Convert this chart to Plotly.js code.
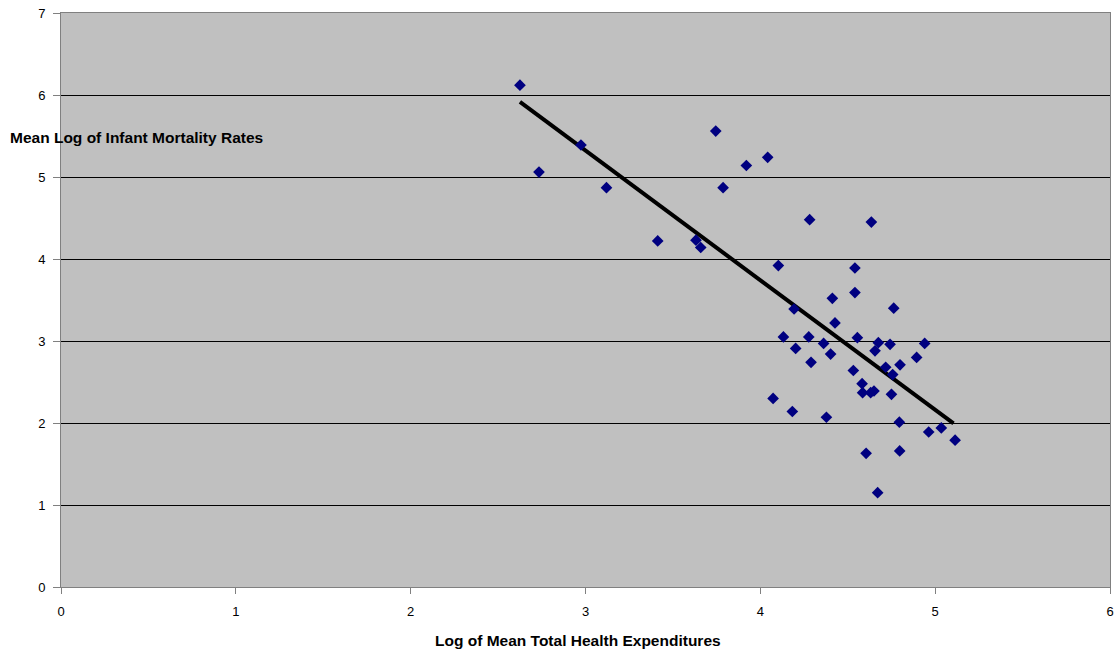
<!DOCTYPE html>
<html>
<head>
<meta charset="utf-8">
<script src="https://cdn.plot.ly/plotly-3.0.1.min.js"></script>
<style>html,body{margin:0;padding:0;background:#fff;}#chart{width:1117px;height:654px;}</style>
</head>
<body>
<div id="chart"></div>
<script>
// Log of mean total health expenditures (x) vs mean log of infant mortality rates (y)
const healthExp = [2.625, 2.734, 2.974, 3.12, 3.413, 3.632, 3.659, 3.745, 3.787, 3.92, 4.042, 4.103,
  4.282, 4.635, 4.541, 4.541, 4.412, 4.193, 4.763, 4.427, 4.132, 4.277, 4.555,
  4.675, 4.742, 4.94, 4.202, 4.362, 4.656, 4.402, 4.799, 4.894, 4.29, 4.717, 4.757,
  4.532, 4.582, 4.585, 4.631, 4.65, 4.75, 4.073, 4.183, 4.378, 4.795, 4.963, 5.035,
  5.114, 4.605, 4.797, 4.671];
const infantMort = [6.12, 5.06, 5.39, 4.87, 4.22, 4.23, 4.14, 5.56, 4.87, 5.14, 5.24, 3.92,
  4.48, 4.45, 3.89, 3.59, 3.52, 3.39, 3.40, 3.22, 3.05, 3.05, 3.04,
  2.98, 2.96, 2.97, 2.91, 2.97, 2.88, 2.84, 2.71, 2.80, 2.74, 2.68, 2.59,
  2.64, 2.48, 2.37, 2.37, 2.39, 2.35, 2.30, 2.14, 2.07, 2.01, 1.89, 1.94,
  1.79, 1.63, 1.66, 1.15];
const trendX = [2.625, 5.105];
const trendY = [5.915, 1.995];
const xTicks = [0, 1, 2, 3, 4, 5, 6];
const yTicks = [0, 1, 2, 3, 4, 5, 6, 7];

const font = {family: 'Arial, "Liberation Sans", sans-serif', color: '#000'};

const traces = [
  {x: trendX, y: trendY, mode: 'lines', type: 'scatter',
   line: {color: '#000', width: 4}, hoverinfo: 'skip', showlegend: false},
  {x: healthExp, y: infantMort, mode: 'markers', type: 'scatter',
   marker: {symbol: 'diamond', color: '#000080', size: 9, line: {width: 0}}, showlegend: false}
];

const layout = {
  width: 1117, height: 654,
  margin: {l: 61, r: 7, t: 13, b: 67},
  paper_bgcolor: '#ffffff', plot_bgcolor: '#c0c0c0',
  font: Object.assign({size: 13}, font),
  showlegend: false,
  xaxis: {range: [0, 6], tickvals: xTicks, ticktext: xTicks.map(String),
    showgrid: false, zeroline: false, showline: true, mirror: true, linecolor: '#808080', linewidth: 1,
    ticks: 'outside', ticklen: 6, tickcolor: '#808080', ticklabelstandoff: 6,
    tickfont: Object.assign({size: 13}, font)},
  yaxis: {range: [0, 7], tickvals: yTicks, ticktext: yTicks.map(String),
    showgrid: true, gridcolor: '#000', gridwidth: 1, zeroline: false,
    showline: true, mirror: true, linecolor: '#808080', linewidth: 1,
    ticks: 'outside', ticklen: 7, tickcolor: '#808080', ticklabelstandoff: 5,
    tickfont: Object.assign({size: 13}, font)},
  annotations: [
    {text: '<b>Mean Log of Infant Mortality Rates</b>', xref: 'paper', yref: 'paper',
     x: -61/1049, y: (587-137)/574, xanchor: 'left', yanchor: 'middle', showarrow: false,
     xshift: 8, font: Object.assign({size: 15.5}, font)},
    {text: '<b>Log of Mean Total Health Expenditures</b>', xref: 'paper', yref: 'paper',
     x: (577.5-61)/1049, y: 0, yshift: -53, xanchor: 'center', yanchor: 'middle', showarrow: false,
     font: Object.assign({size: 15.5}, font)}
  ]
};

Plotly.newPlot('chart', traces, layout, {displayModeBar: false, staticPlot: true});
</script>
</body>
</html>
